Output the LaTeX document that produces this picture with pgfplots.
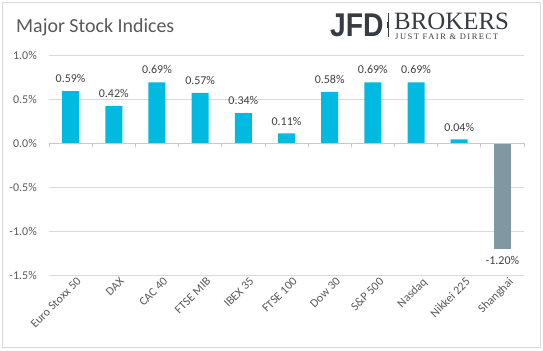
\documentclass[border=0pt]{standalone}
\usepackage{pgfplots}
\pgfplotsset{compat=1.18}
\usepackage{fontspec}
\setmainfont{Carlito}
\newfontfamily\logosans{Liberation Sans}
\newfontfamily\logoserif{Liberation Serif}
\newfontfamily\tagfont[LetterSpace=18]{Liberation Serif}
\definecolor{barcyan}{RGB}{0,186,226}
\definecolor{bargrey}{RGB}{128,152,162}
\definecolor{txtgrey}{RGB}{89,89,89}
\definecolor{lblgrey}{RGB}{64,64,64}
\definecolor{gridgrey}{RGB}{217,217,217}
\definecolor{zerogrey}{RGB}{200,200,200}
\definecolor{logogrey}{RGB}{55,60,66}
\begin{document}
\begin{tikzpicture}
\path[use as bounding box] (0bp,0bp) rectangle (543bp,351bp);
\draw[gridgrey, line width=1bp] (2.5bp,3.5bp) rectangle (540.5bp,348.5bp);
\node[anchor=base west, inner sep=0, text=txtgrey, font=\fontsize{20}{24}\selectfont] at (16bp,318bp) {Major Stock Indices};
% logo
\node[anchor=base west, inner sep=0, text=logogrey, font=\logosans\bfseries\fontsize{33}{36}\selectfont, xscale=0.86] at (330bp,314bp) {JFD};
\draw[logogrey, line width=0.8bp] (388bp,314bp) -- (388bp,338bp);
\draw[logogrey, line width=2bp] (388bp,323bp) -- (388bp,329bp);
\node[anchor=base west, inner sep=0, text=logogrey, font=\logoserif\fontsize{25}{28}\selectfont] at (394bp,321bp) {BROKERS};
\node[anchor=base west, inner sep=0, text=logogrey, font=\tagfont\fontsize{8.5}{10}\selectfont] at (395bp,311bp) {JUST FAIR \& DIRECT};
\begin{scope}[shift={(49bp,76bp)}]
\begin{axis}[
  at={(0pt,0pt)}, anchor=south west, scale only axis,
  width=475bp, height=220bp,
  xmin=-0.5, xmax=10.5, ymin=-1.5, ymax=1.0,
  ytick={-1.5,-1.0,-0.5,0,0.5,1.0},
  xtick={0,1,2,3,4,5,6,7,8,9,10},
  xticklabels={Euro Stoxx 50,DAX,CAC 40,FTSE MIB,IBEX 35,FTSE 100,Dow 30,S\&P 500,Nasdaq,Nikkei 225,Shanghai},
  axis line style={draw=none},
  ymajorgrids, grid style={gridgrey, line width=0.75bp},
  major tick length=0pt,
  /pgf/number format/assume math mode=true,
  yticklabel={\pgfmathprintnumber[fixed,fixed zerofill,precision=1]{\tick}\%},
  ticklabel style={font=\fontsize{12}{14}\selectfont, text=txtgrey},
  yticklabel style={inner sep=0pt, anchor=east, xshift=-12bp},
  xticklabel style={rotate=45, anchor=north east, inner sep=0pt, xshift=3bp, yshift=-5bp},
  ybar, bar width=17bp, bar shift=0pt,
  nodes near coords={\pgfmathprintnumber[fixed,fixed zerofill,precision=2]{\pgfplotspointmeta}\%},
  every node near coord/.append style={font=\fontsize{12}{14}\selectfont, text=lblgrey, inner xsep=0pt, inner ysep=8bp},
  clip=false,
]
\addplot[fill=barcyan, draw=none] coordinates {(0,0.59) (1,0.42) (2,0.69) (3,0.57) (4,0.34) (5,0.11) (6,0.58) (7,0.69) (8,0.69) (9,0.04)};
\addplot[fill=bargrey, draw=none] coordinates {(10,-1.20)};
\draw[zerogrey, line width=0.75bp] (axis cs:-0.5,0) -- (axis cs:10.5,0);
\pgfplotsinvokeforeach{-0.5,0.5,1.5,2.5,3.5,4.5,5.5,6.5,7.5,8.5,9.5,10.5}{
  \draw[zerogrey, line width=0.75bp] (axis cs:#1,0) -- ++(0bp,-4bp);
}
\end{axis}
\end{scope}
\end{tikzpicture}
\end{document}
